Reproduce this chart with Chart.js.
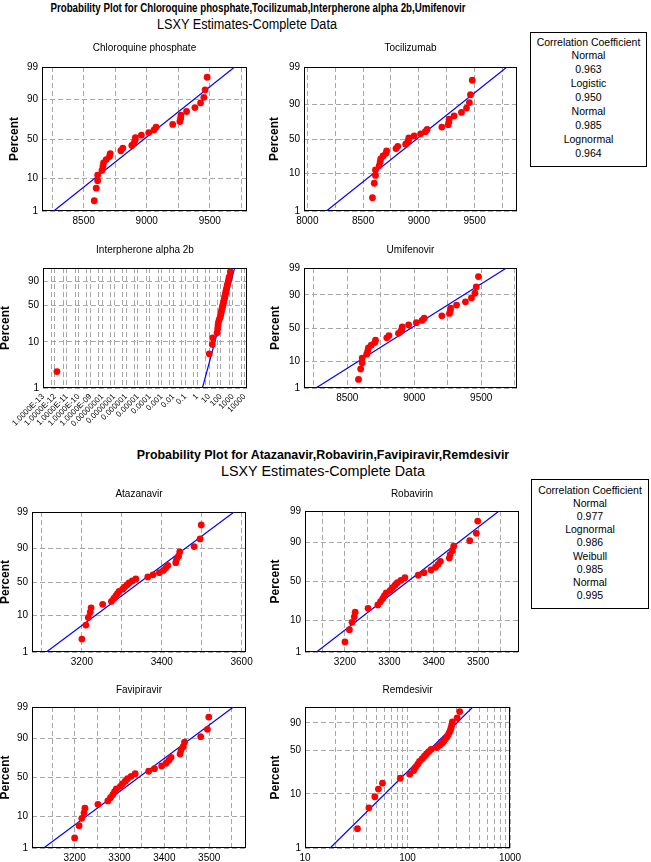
<!DOCTYPE html>
<html>
<head>
<meta charset="utf-8">
<script src="https://cdn.jsdelivr.net/npm/chart.js@4"></script>
<style>
  body { margin: 0; background: #fff; }
  #stage { position: relative; width: 651px; height: 862px; overflow: hidden; background: #fff; }
  #stage canvas { position: absolute; }
  .head { position: absolute; white-space: nowrap; font-family: "Liberation Sans", Arial, sans-serif; color: #000; transform-origin: center center; }
  .corr { position: absolute; border: 1px solid #000; box-sizing: border-box; text-align: center;
          font-family: "Liberation Sans", Arial, sans-serif; font-size: 10.5px; color: #000; background: #fff; }
</style>
</head>
<body>
<div id="stage"></div>
<script>
// plotting positions (median ranks, percent) - every sample has 30 values
var percentRanks = [2.3, 5.6, 8.9, 12.2, 15.5, 18.8, 22.0, 25.3, 28.6, 31.9, 35.2, 38.5, 41.8, 45.1, 48.4,
                    51.6, 54.9, 58.2, 61.5, 64.8, 68.1, 71.4, 74.7, 78.0, 81.3, 84.5, 87.8, 91.1, 94.4, 97.7];

// sample values
var chloroquine = [8584, 8600, 8611, 8611, 8645, 8653, 8658, 8679, 8705, 8711, 8795, 8811, 8882, 8900, 8908,
                   8910, 8958, 9016, 9058, 9074, 9206, 9263, 9269, 9271, 9316, 9382, 9427, 9453, 9463, 9479];
var tocilizumab = chloroquine.slice();
var umifenovir = chloroquine.slice();
var interpherone = [1.5e-12, 10.5, 19, 20.4, 48, 54, 58, 63, 75, 91, 98, 108, 118, 130, 142,
                    155, 168, 182, 196, 210, 228, 246, 265, 285, 310, 340, 380, 430, 490, 630];
var atazanavir = [3200, 3210, 3216, 3221, 3223, 3252, 3274, 3280, 3285, 3289, 3293, 3302, 3307, 3313, 3318,
                  3326, 3335, 3365, 3378, 3394, 3404, 3410, 3415, 3435, 3437, 3442, 3445, 3481, 3496, 3499];
var robavirin = atazanavir.slice();
var favipiravir = atazanavir.slice();
var remdesivir = [32.5, 42, 48, 52, 57, 85, 105, 115, 120, 126, 131, 139, 146, 153, 161,
                  170, 194, 206, 218, 226, 234, 243, 249, 256, 262, 266, 270, 274, 305, 323];

// fitted lines: x at 1% and at 99%
var fitPct = [1, 99];
var fitChloroquine = [8263, 9697];
var fitTocilizumab = [8171, 9790];
var fitInterpherone = [2.8, 1450];
var fitUmifenovir = [8266, 9688];
var fitAtazanavir = [3111, 3581];
var fitRobavirin = [3136, 3547];
var fitFavipiravir = [3131, 3554];
var fitRemdesivir = [17.6, 434];

// axis ticks
var pctTicks = [1, 10, 50, 90, 99];
var pctLabels = ["1", "10", "50", "90", "99"];
var pctLabelsNoTop = ["1", "10", "50", "90", ""];
var interXLabels = ["1.0000E-13", "1.0000E-12", "1.0000E-11", "1.0000E-10", "1.0000E-09", "0.00000001",
                    "0.0000001", "0.000001", "0.00001", "0.0001", "0.001", "0.01", "0.1", "1", "10", "100", "1000", "10000"];
var remXLabels = ["10", "100", "1000"];

// correlation boxes
var corrNamesA = ["Normal", "Logistic", "Normal", "Lognormal"];
var corrValuesA = ["0.963", "0.950", "0.985", "0.964"];
var corrNamesB = ["Normal", "Lognormal", "Weibull", "Normal"];
var corrValuesB = ["0.977", "0.986", "0.985", "0.995"];

Chart.defaults.font.family = "Liberation Sans";
Chart.defaults.font.size = 10;
Chart.defaults.color = "#000";

var stage = document.getElementById("stage");

// inverse standard normal (Acklam)
function normInv(p) {
  var a = [-3.969683028665376e+01, 2.209460984245205e+02, -2.759285104469687e+02, 1.383577518672690e+02, -3.066479806614716e+01, 2.506628277459239e+00];
  var b = [-5.447609879822406e+01, 1.615858368580409e+02, -1.556989798598866e+02, 6.680131188771972e+01, -1.328068155288572e+01];
  var c = [-7.784894002430293e-03, -3.223964580411365e-01, -2.400758277161838e+00, -2.549732539343734e+00, 4.374664141464968e+00, 2.938163982698783e+00];
  var d = [7.784695709041462e-03, 3.224671290700398e-01, 2.445134137142996e+00, 3.754408661907416e+00];
  var q, r;
  if (p < 0.02425) {
    q = Math.sqrt(-2 * Math.log(p));
    return (((((c[0]*q+c[1])*q+c[2])*q+c[3])*q+c[4])*q+c[5]) / ((((d[0]*q+d[1])*q+d[2])*q+d[3])*q+1);
  }
  if (p > 1 - 0.02425) {
    q = Math.sqrt(-2 * Math.log(1 - p));
    return -(((((c[0]*q+c[1])*q+c[2])*q+c[3])*q+c[4])*q+c[5]) / ((((d[0]*q+d[1])*q+d[2])*q+d[3])*q+1);
  }
  q = p - 0.5; r = q * q;
  return (((((a[0]*r+a[1])*r+a[2])*r+a[3])*r+a[4])*r+a[5])*q / (((((b[0]*r+b[1])*r+b[2])*r+b[3])*r+b[4])*r+1);
}

// probability paper: percent -> linear axis units
var probScale = {
  normal: function (p) { return normInv(p / 100); },
  logistic: function (p) { return Math.log(p / (100 - p)); },
  weibull: function (p) { return Math.log(-Math.log(1 - p / 100)); }
};

var frame = {
  id: "frame",
  beforeDatasetsDraw: function (chart) {
    var a = chart.chartArea, ctx = chart.ctx;
    var l = Math.round(a.left) + 0.5, t = Math.round(a.top) + 0.5;
    var r = Math.round(a.right) - 0.5, b = Math.round(a.bottom) - 0.5;
    ctx.save();
    ctx.strokeStyle = "#000";
    ctx.lineWidth = 1;
    ctx.strokeRect(l, t, r - l, b - t);
    ctx.restore();
  }
};

function isDecade(v) {
  var e = Math.log10(v);
  return Math.abs(e - Math.round(e)) < 1e-6;
}

function makePlot(c) {
  var L = c.rect[0], T = c.rect[1], R = c.rect[2], B = c.rect[3];
  var xH = c.rotate ? 52 : 22;
  var left = Math.round(L - 50), top = Math.round(c.titleY - 6);
  var w = Math.round(R - left + 16), h = Math.round(B + xH - top);
  var canvas = document.createElement("canvas");
  canvas.width = w; canvas.height = h;
  canvas.style.left = left + "px";
  canvas.style.top = top + "px";
  stage.appendChild(canvas);

  var tf = probScale[c.dist];
  var yLabels = c.dist === "weibull" ? pctLabelsNoTop : pctLabels;

  var xScale = {
    type: c.log ? "logarithmic" : "linear",
    min: c.xMin, max: c.xMax,
    border: { display: false, dash: [5, 3] },
    grid: { color: "#a8a8a8", drawTicks: false },
    ticks: {
      autoSkip: false, padding: 4, includeBounds: false,
      maxRotation: c.rotate ? 45 : 0, minRotation: c.rotate ? 45 : 0,
      font: { size: c.rotate ? 8 : 10 },
      callback: c.xLabel
    },
    afterFit: function (s) { s.height = h - (B - top); s.paddingLeft = 0; s.paddingRight = 0; }
  };
  if (c.xStep) xScale.ticks.stepSize = c.xStep;
  if (c.xTicks) xScale.afterBuildTicks = function (s) {
    s.ticks = c.xTicks.map(function (v) { return { value: v }; });
  };

  new Chart(canvas, {
    type: "scatter",
    data: {
      datasets: [
        {
          data: c.xs.map(function (x, i) { return { x: x, y: tf(percentRanks[i]) }; }),
          backgroundColor: "#ff0000", borderColor: "#ff0000", borderWidth: 0,
          pointRadius: 3.4, pointHoverRadius: 3.4
        },
        {
          data: c.fit.map(function (x, i) { return { x: x, y: tf(fitPct[i]) }; }),
          showLine: true, borderColor: "#0000ff", borderWidth: 1.2, pointRadius: 0
        }
      ]
    },
    options: {
      responsive: false, animation: false, devicePixelRatio: 1,
      events: [],
      layout: { padding: { right: w - (R - left) } },
      plugins: {
        legend: { display: false },
        tooltip: { enabled: false },
        title: {
          display: true, text: c.title, fullSize: false,
          font: { size: 10, weight: "normal" },
          padding: { top: 0, bottom: T - top - 12 }
        }
      },
      scales: {
        x: xScale,
        y: {
          type: "linear", min: tf(1), max: tf(99),
          border: { display: false, dash: [5, 3] },
          grid: { color: "#a8a8a8", drawTicks: false },
          ticks: {
            autoSkip: false, padding: 4,
            callback: function (v, i) { return yLabels[i]; }
          },
          afterBuildTicks: function (s) {
            s.ticks = pctTicks.map(function (p) { return { value: tf(p) }; });
          },
          title: {
            display: true, text: "Percent",
            font: { size: 12, weight: "bold" },
            padding: { top: c.percentX - left - 7.2, bottom: 0 }
          },
          afterFit: function (s) { s.width = L - left; s.paddingTop = 0; s.paddingBottom = 0; }
        }
      }
    },
    plugins: [frame]
  });
}

function linLabel(step) {
  return function (v) { return v % step === 0 ? String(v) : ""; };
}

// tick positions for the two log axes: decades plus their minor steps
var interXTicks = [];
for (var e = -13; e <= 4; e++) {
  interXTicks.push(Math.pow(10, e));
  if (e < 4) interXTicks.push(5 * Math.pow(10, e));
}
var remXTicks = [];
[10, 100].forEach(function (d) {
  for (var m = 1; m <= 9; m++) remXTicks.push(d * m);
});
remXTicks.push(1000);

makePlot({ title: "Chloroquine phosphate", rect: [42, 67, 247, 211], titleY: 48, percentX: 15,
  dist: "normal", xMin: 8170, xMax: 9795, xStep: 250, xLabel: linLabel(500),
  xs: chloroquine, fit: fitChloroquine });
makePlot({ title: "Tocilizumab", rect: [304, 67, 517, 211], titleY: 48, percentX: 275,
  dist: "logistic", xMin: 7970, xMax: 9880, xStep: 250, xLabel: linLabel(500),
  xs: tocilizumab, fit: fitTocilizumab });
makePlot({ title: "Interpherone alpha 2b", rect: [43, 268, 247, 388], titleY: 250, percentX: 6,
  dist: "weibull", log: true, rotate: true, xMin: 1e-13, xMax: 1.6e4, xTicks: interXTicks,
  xLabel: function (v) { return isDecade(v) ? interXLabels[Math.round(Math.log10(v)) + 13] : ""; },
  xs: interpherone, fit: fitInterpherone });
makePlot({ title: "Umifenovir", rect: [304, 268, 517, 388], titleY: 250, percentX: 276,
  dist: "normal", xMin: 8177, xMax: 9767, xStep: 250, xLabel: linLabel(500),
  xs: umifenovir, fit: fitUmifenovir });

makePlot({ title: "Atazanavir", rect: [32, 512, 246, 652], titleY: 494, percentX: 6,
  dist: "logistic", xMin: 3075, xMax: 3611, xStep: 100, xLabel: linLabel(200),
  xs: atazanavir, fit: fitAtazanavir });
makePlot({ title: "Robavirin", rect: [305, 511, 519, 652], titleY: 494, percentX: 276,
  dist: "normal", xMin: 3110, xMax: 3592, xStep: 50, xLabel: linLabel(100),
  xs: robavirin, fit: fitRobavirin });
makePlot({ title: "Favipiravir", rect: [32, 707, 246, 848], titleY: 690, percentX: 6,
  dist: "normal", xMin: 3105, xMax: 3582, xStep: 50, xLabel: linLabel(100),
  xs: favipiravir, fit: fitFavipiravir });
makePlot({ title: "Remdesivir", rect: [305, 707, 510, 848], titleY: 690, percentX: 276,
  dist: "weibull", log: true, xMin: 10, xMax: 1000, xTicks: remXTicks,
  xLabel: function (v) { return isDecade(v) ? remXLabels[Math.round(Math.log10(v)) - 1] : ""; },
  xs: remdesivir, fit: fitRemdesivir });

// headings, squeezed to the reference widths
function heading(text, cx, cy, width, size, bold) {
  var el = document.createElement("div");
  el.className = "head";
  el.textContent = text;
  el.style.fontSize = size + "px";
  el.style.fontWeight = bold ? "bold" : "normal";
  el.style.left = cx + "px";
  el.style.top = cy + "px";
  stage.appendChild(el);
  var k = width / el.offsetWidth;
  el.style.transform = "translate(-50%, -50%) scaleX(" + k + ")";
}
heading("Probability Plot for Chloroquine phosphate,Tocilizumab,Interpherone alpha 2b,Umifenovir", 257.5, 8, 415, 12.5, true);
heading("LSXY Estimates-Complete Data", 247, 24, 180, 14, false);
heading("Probability Plot for Atazanavir,Robavirin,Favipiravir,Remdesivir", 322.5, 455, 372, 12, true);
heading("LSXY Estimates-Complete Data", 323, 471, 204, 14.5, false);

function corrBox(names, values, left, top, width, height, lineH, padTop) {
  var box = document.createElement("div");
  box.className = "corr";
  box.style.left = left + "px";
  box.style.top = top + "px";
  box.style.width = width + "px";
  box.style.height = height + "px";
  box.style.lineHeight = lineH + "px";
  box.style.paddingTop = padTop + "px";
  var lines = ["Correlation Coefficient"];
  names.forEach(function (n, i) { lines.push(n); lines.push(values[i]); });
  lines.forEach(function (t) {
    var d = document.createElement("div");
    d.textContent = t;
    box.appendChild(d);
  });
  stage.appendChild(box);
}
corrBox(corrNamesA, corrValuesA, 530, 32, 117, 135, 13.9, 2.5);
corrBox(corrNamesB, corrValuesB, 531, 479, 118, 130, 13.2, 3.5);
</script>
</body>
</html>
